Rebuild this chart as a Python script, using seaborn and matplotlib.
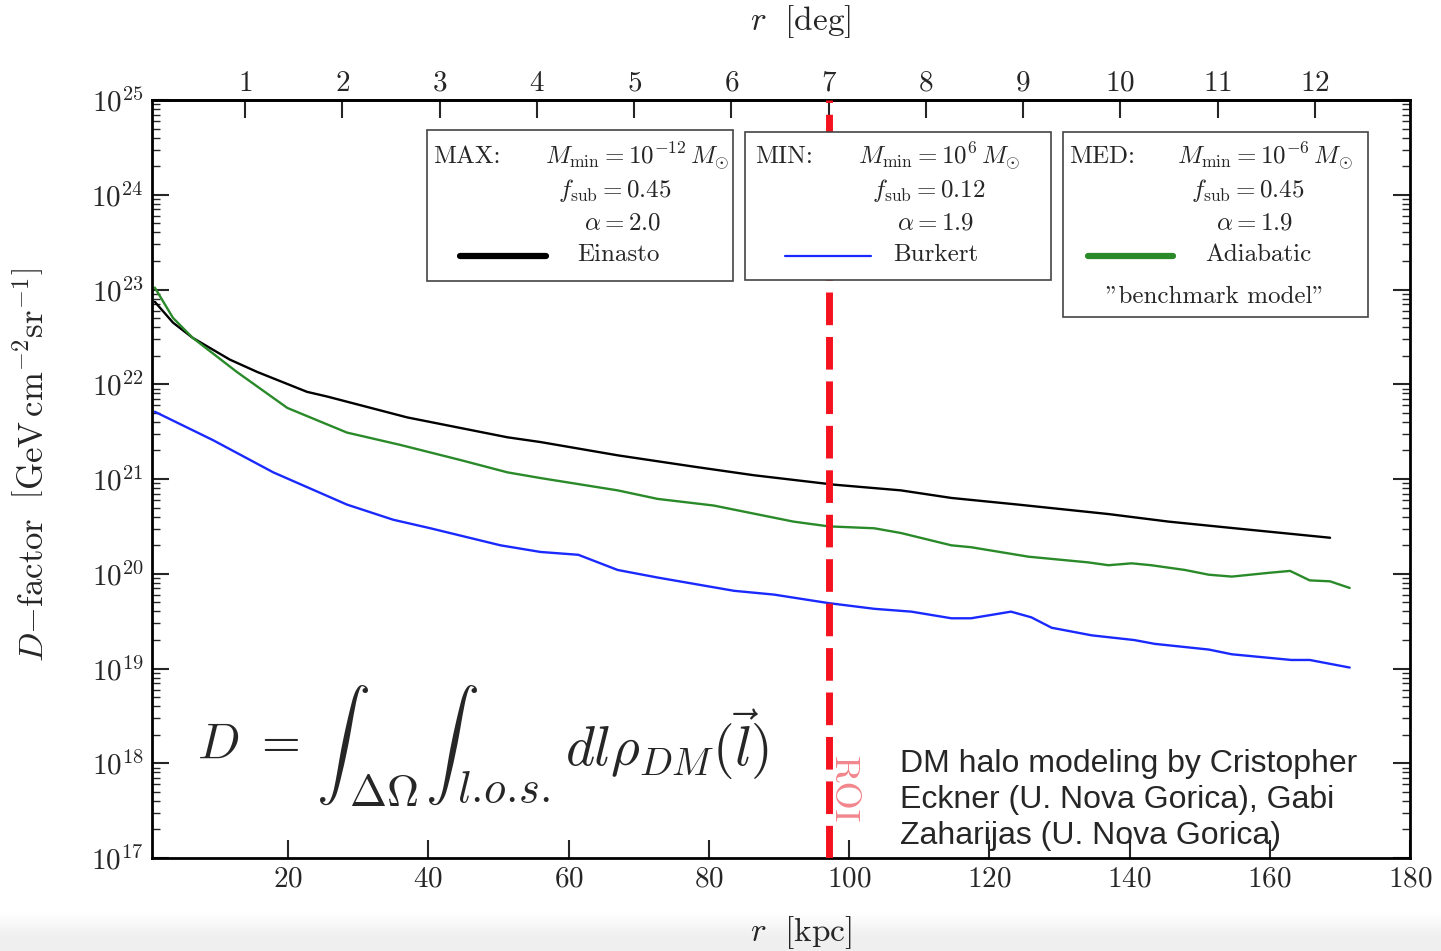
import matplotlib.pyplot as plt
import matplotlib.patches as mpatches
import matplotlib.ticker as mticker
import numpy as np
import seaborn as sns

# =============== DATA ===============
# radius in kpc, D-factor as log10 [GeV cm^-2 sr^-1]
r_einasto = [1, 3.6, 6.4, 11.7, 15.6, 22.7, 25.6, 37, 51.3, 56, 67, 77.9, 86.4,
             97.9, 107.4, 114.6, 124.1, 137, 145.6, 155, 168.6]
d_einasto = [22.87, 22.65, 22.49, 22.26, 22.13, 21.92, 21.87, 21.65, 21.44, 21.39,
             21.25, 21.13, 21.04, 20.94, 20.88, 20.80, 20.73, 20.63, 20.55, 20.48, 20.38]

r_adiabatic = [1, 3.6, 6.4, 12.7, 19.9, 28.4, 36, 44.6, 51.3, 56, 67, 72.7, 80.7,
               92.1, 97.1, 103.6, 107.4, 114.6, 117.4, 125.6, 134.1, 137, 140.3,
               143.1, 147.9, 151.3, 154.6, 159.9, 162.9, 165.7, 168.6, 171.4]
d_adiabatic = [23.02, 22.70, 22.49, 22.13, 21.75, 21.49, 21.36, 21.20, 21.07, 21.01,
               20.88, 20.79, 20.72, 20.55, 20.50, 20.48, 20.43, 20.30, 20.28, 20.18,
               20.12, 20.09, 20.11, 20.09, 20.04, 19.99, 19.97, 20.01, 20.03, 19.93,
               19.92, 19.85]

r_burkert = [1, 9.3, 17.9, 28.4, 35, 40.3, 50.3, 56, 61.4, 67, 72.7, 83.6, 89.3,
             97.1, 103.6, 108.9, 114.6, 117.4, 123.1, 126, 128.9, 134.6, 140.7,
             143.6, 151.3, 154.6, 163.1, 165.7, 171.4]
d_burkert = [21.71, 21.41, 21.07, 20.73, 20.57, 20.48, 20.30, 20.23, 20.20, 20.04,
             19.96, 19.82, 19.78, 19.69, 19.63, 19.60, 19.53, 19.53, 19.60, 19.54,
             19.43, 19.35, 19.30, 19.26, 19.20, 19.15, 19.09, 19.09, 19.01]

roi_kpc = 97.1
kpc_per_deg = 13.87
deg_ticks = list(range(1, 13))
kpc_ticks = [20, 40, 60, 80, 100, 120, 140, 160, 180]

# =============== STYLE ===============
sns.set_style('ticks')
plt.rcParams['font.family'] = ['cmr10', 'DejaVu Serif']
plt.rcParams['mathtext.fontset'] = 'cm'
plt.rcParams['axes.formatter.use_mathtext'] = True

W, H = 1441, 951
fig = plt.figure(figsize=(W / 100, H / 100), dpi=100)

# light grey band at the very bottom (screenshot look)
band = fig.add_axes([0, 0, 1, 40 / H], zorder=-1)
grad = np.concatenate([np.full(14, 0.935), np.linspace(0.935, 1.0, 26)])[:, None]
band.imshow(np.repeat(grad, 2, axis=1), cmap='gray', vmin=0, vmax=1, aspect='auto',
            extent=(0, 1, 0, 1), origin='lower')
band.set_axis_off()

ax = fig.add_axes([152 / W, 1 - 858 / H, 1258 / W, 758 / H])


def axf(px, py):
    # picture pixel -> axes fraction
    return (px - 152) / 1258, (858 - py) / 758


sns.lineplot(x=r_einasto, y=10 ** np.array(d_einasto), color='black', lw=1.7, ax=ax)
sns.lineplot(x=r_adiabatic, y=10 ** np.array(d_adiabatic), color='#2a8a2a', lw=1.7, ax=ax)
sns.lineplot(x=r_burkert, y=10 ** np.array(d_burkert), color='#1a2aff', lw=1.7, ax=ax)

ax.axvline(roi_kpc, color='#f5121f', lw=5, dashes=(4.7, 1.7), zorder=3)
ax.text(roi_kpc + 2.0, 10 ** 17.72, 'ROI', rotation=-90, ha='center', va='center',
        color='#f2868c', fontsize=26)

ax.set_yscale('log')
ax.set_ylim(1e17, 1e25)
ax.set_xlim(0.6, 180)
ax.set_xticks(kpc_ticks)
ax.xaxis.set_major_formatter(mticker.FuncFormatter(lambda v, _: f'${v:g}$'))
ax.yaxis.set_major_locator(mticker.LogLocator(base=10, numticks=20))
ax.yaxis.set_minor_locator(mticker.LogLocator(base=10, subs=np.arange(2, 10), numticks=20))
ax.yaxis.set_major_formatter(mticker.FuncFormatter(lambda v, _: rf'$10^{{{int(round(np.log10(v)))}}}$'))
ax.yaxis.set_minor_formatter(mticker.NullFormatter())

ax.tick_params(axis='both', which='both', direction='in', labelsize=21)
ax.tick_params(axis='x', which='major', length=13, width=1.5, top=False, pad=6)
ax.tick_params(axis='y', which='major', length=12, width=1.5, right=True, pad=6)
ax.tick_params(axis='y', which='minor', length=6, width=1.0, right=True)
for s in ax.spines.values():
    s.set_linewidth(2)
    s.set_color('black')

secax = ax.secondary_xaxis('top', functions=(lambda x: x / kpc_per_deg, lambda d: d * kpc_per_deg))
secax.set_xticks(deg_ticks)
secax.xaxis.set_major_formatter(mticker.FuncFormatter(lambda v, _: f'${v:g}$'))
secax.tick_params(axis='x', direction='in', length=13, width=1.5, labelsize=21, pad=2.5)
secax.spines['top'].set_linewidth(2)

ax.set_xlabel(r'$r\ \ [\mathrm{kpc}]$', fontsize=24)
ax.xaxis.set_label_coords(*axf(801, 933))
ax.xaxis.label.set_va('center')
fig.text(801 / W, 1 - 22 / H, r'$r\ \ [\mathrm{deg}]$', fontsize=24, ha='center', va='center')
ax.set_ylabel(r'$D{-}\mathrm{factor}\ \ \left[\mathrm{GeV\,cm}^{-2}\mathrm{sr}^{-1}\right]$', fontsize=25)
ax.yaxis.set_label_coords(*axf(33, 465))
ax.yaxis.label.set_va('center')

# =============== LEGEND BOXES ===============
boxes = [
    (427, 130, 733, 281, 'MAX:', r'$M_{\rm min} = 10^{-12}\,M_{\odot}$', r'$f_{\rm sub} = 0.45$',
     r'$\alpha = 2.0$', 'black', 4.5, 'Einasto', (433, 545, 558, 584, 460, 546, 577)),
    (745, 132, 1051, 280, 'MIN:', r'$M_{\rm min} = 10^{6}\,M_{\odot}$', r'$f_{\rm sub} = 0.12$',
     r'$\alpha = 1.9$', '#1a2aff', 1.6, 'Burkert', (755, 858, 872, 897, 785, 871, 893)),
    (1063, 132, 1368, 317, 'MED:', r'$M_{\rm min} = 10^{-6}\,M_{\odot}$', r'$f_{\rm sub} = 0.45$',
     r'$\alpha = 1.9$', '#2a8a2a', 4.5, 'Adiabatic', (1069, 1177, 1191, 1216, 1088, 1173, 1205)),
]
fs_leg = 18
for (x0, y0, x1, y1, tag, mline, fline, aline, col, lw, name, xs) in boxes:
    bx, by = axf(x0, y1)
    bw = (x1 - x0) / 1258
    bh = (y1 - y0) / 758
    ax.add_patch(mpatches.Rectangle((bx, by), bw, bh, transform=ax.transAxes,
                                    facecolor='white', edgecolor='#444444', lw=1.2, zorder=5))
    ax.text(*axf(xs[0], 157), tag, transform=ax.transAxes, ha='left', va='center', fontsize=fs_leg, zorder=6)
    ax.text(*axf(xs[1], 157), mline, transform=ax.transAxes, ha='left', va='center', fontsize=fs_leg, zorder=6)
    ax.text(*axf(xs[2], 191), fline, transform=ax.transAxes, ha='left', va='center', fontsize=fs_leg, zorder=6)
    ax.text(*axf(xs[3], 223), aline, transform=ax.transAxes, ha='left', va='center', fontsize=fs_leg, zorder=6)
    lx0, ly = axf(xs[4], 256)
    lx1, _ = axf(xs[5], 256)
    ax.plot([lx0, lx1], [ly, ly], transform=ax.transAxes, color=col, lw=lw, zorder=6, clip_on=False)
    ax.text(*axf(xs[6], 255), name, transform=ax.transAxes, ha='left', va='center', fontsize=fs_leg, zorder=6)

ax.text(*axf(1215, 297), '"benchmark model"', transform=ax.transAxes, ha='center', va='center',
        fontsize=fs_leg, zorder=6)

# =============== FORMULA & CREDIT ===============
ax.text(*axf(197, 745), r'$D\ =$', transform=ax.transAxes, ha='left', va='center', fontsize=36)
ax.text(*axf(343, 745), r'$\int$', transform=ax.transAxes, ha='center', va='center', fontsize=39)
ax.text(*axf(349, 795), r'$\Delta\Omega$', transform=ax.transAxes, ha='left', va='center', fontsize=32)
ax.text(*axf(451, 745), r'$\int$', transform=ax.transAxes, ha='center', va='center', fontsize=39)
ax.text(*axf(457, 791), r'$l.\!o.\!s.$', transform=ax.transAxes, ha='left', va='center', fontsize=32)
ax.text(*axf(565, 745), r'$dl\rho_{DM}(\vec{l})$', transform=ax.transAxes, ha='left', va='center', fontsize=40)

ax.text(*axf(900, 800), 'DM halo modeling by Cristopher\nEckner (U. Nova Gorica), Gabi\nZaharijas (U. Nova Gorica)',
        transform=ax.transAxes, ha='left', va='center', fontsize=23, family='Liberation Sans',
        linespacing=1.28)

fig.savefig('out.png', dpi=100)
